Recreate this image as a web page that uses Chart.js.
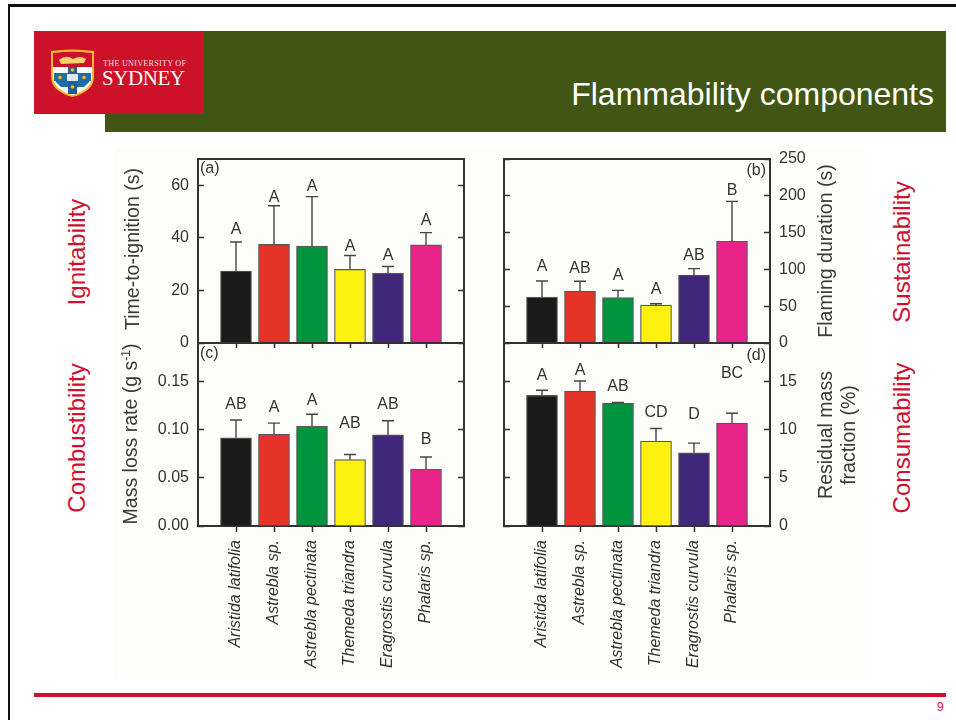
<!DOCTYPE html>
<html>
<head>
<meta charset="utf-8">
<title>Flammability components</title>
<script src="https://cdn.jsdelivr.net/npm/chart.js@4"></script>
<style>
  html, body { margin: 0; padding: 0; background: #fff; }
  body { position: relative; width: 956px; height: 720px; overflow: hidden; font-family: "Liberation Sans", Arial, sans-serif; }
  .box { position: absolute; }
  canvas { position: absolute; filter: blur(0.4px); }
  .rot { position: absolute; width: 300px; margin-left: -150px; height: 30px; margin-top: -15px; line-height: 30px;
         text-align: center; transform: rotate(-90deg); white-space: nowrap; }
  .side { color: #cf1030; font-size: 24px; }
  .ytitle { color: #3a3a3a; font-size: 19.5px; filter: blur(0.4px); }
  .ytitle sup { font-size: 12px; line-height: 0; }
</style>
</head>
<body>
<div class="box" style="left:8px;top:4px;width:948px;height:2.5px;background:#111"></div>
<div class="box" style="left:7.5px;top:4px;width:2.5px;height:716px;background:#111"></div>

<div class="box" style="left:105px;top:31px;width:841px;height:101px;background:#415615"></div>
<div class="box" style="left:34px;top:31px;width:170px;height:83px;background:#cd1129"></div>
<svg class="box" style="left:34px;top:31px" width="170" height="83" viewBox="0 0 170 83">
  <path d="M17 20 Q38 17 60 20 L60 46 Q60 60 38.500 66 Q17 60 17 46 Z" fill="#f6b92c"/>
  <path d="M19 22 Q38 19 58 22 L58 46 Q58 58 38.500 64 Q19 58 19 46 Z" fill="#fff"/>
  <path d="M19 22 Q38 19 58 22 L58 36 L19 36 Z" fill="#cd1129"/>
  <path d="M25 29 Q32 23 39 28 Q46 24 52 28 L50 32 L27 33 Z" fill="#f7d36a"/>
  <path d="M20 42 L57 42 L57 48 Q55 52 50 56 L27 56 Q22 52 20 48 Z" fill="#1e6fa8"/>
  <rect x="34" y="36" width="9" height="27" fill="#1e5f95"/>
  <rect x="20" y="43" width="37" height="7" fill="#1e6fa8"/>
  <rect x="33" y="43" width="11" height="7" fill="#dfe7ee"/>
  <circle cx="38.500" cy="39" r="1.800" fill="#f6b92c"/>
  <circle cx="38.500" cy="56" r="1.800" fill="#f6b92c"/>
  <circle cx="26" cy="46.500" r="1.800" fill="#f6b92c"/>
  <circle cx="50" cy="46.500" r="1.800" fill="#f6b92c"/>
  <text x="69" y="35" font-family="Liberation Serif" font-size="8.200" fill="#f6dfe0" textLength="83">THE UNIVERSITY OF</text>
  <text x="68" y="54" font-family="Liberation Serif" font-size="21" fill="#fff" textLength="83">SYDNEY</text>
</svg>
<div class="box" style="right:22px;top:75px;color:#fff;font-size:32px;line-height:38px;white-space:nowrap">Flammability components</div>

<div class="box" style="left:115px;top:148px;width:750px;height:532px;background:#fdfdfa"></div>

<div class="rot side" style="left:77px;top:252px">Ignitability</div>
<div class="rot side" style="left:902px;top:252px">Sustainability</div>
<div class="rot side" style="left:77px;top:438px">Combustibility</div>
<div class="rot side" style="left:902px;top:438px">Consumability</div>

<div class="rot ytitle" style="left:132px;top:249px">Time-to-ignition (s)</div>
<div class="rot ytitle" style="left:130px;top:434px">Mass loss rate (g s<sup>-1</sup>)</div>
<div class="rot ytitle" style="left:825px;top:251px">Flaming duration (s)</div>
<div class="rot ytitle" style="left:825px;top:435px">Residual mass</div>
<div class="rot ytitle" style="left:848px;top:435px">fraction (%)</div>

<canvas id="graficoA"></canvas>
<canvas id="graficoB"></canvas>
<canvas id="graficoC"></canvas>
<canvas id="graficoD"></canvas>

<div class="box" style="left:34px;top:693px;width:912px;height:4px;background:#cd1129"></div>
<div class="box" style="left:937px;top:701px;color:#cd1129;font-size:12px;line-height:13px">9</div>

<script>
const categories = ["Aristida latifolia", "Astrebla sp.", "Astrebla pectinata", "Themeda triandra", "Eragrostis curvula", "Phalaris sp."];
const barColors = ["#1a1a1a", "#e6332a", "#00943f", "#fff10f", "#40277a", "#e8248a"];

const timeToIgnition = [27.4, 37.5, 36.9, 28.0, 26.6, 37.3];
const timeToIgnitionUpper = [38.4, 52.2, 55.7, 33.3, 29.1, 42.0];
const timeToIgnitionLetters = ["A", "A", "A", "A", "A", "A"];
const timeToIgnitionLetterAt = [43.6, 55.8, 59.9, 37.0, 33.6, 46.9];

const flamingDuration = [62.4, 70.6, 61.6, 51.5, 92.4, 138.3];
const flamingDurationUpper = [84.2, 83.8, 71.5, 53.4, 101.0, 192.4];
const flamingDurationLetters = ["A", "AB", "A", "A", "AB", "B"];
const flamingDurationLetterAt = [104.9, 102.6, 92.6, 74.5, 119.9, 208.4];

const massLossRate = [0.0915, 0.0953, 0.1036, 0.0689, 0.0946, 0.0592];
const massLossRateUpper = [0.110, 0.1068, 0.1161, 0.0742, 0.1092, 0.0717];
const massLossRateLetters = ["AB", "A", "A", "AB", "AB", "B"];
const massLossRateLetterAt = [0.127, 0.124, 0.1316, 0.1072, 0.127, 0.0905];

const residualMass = [13.57, 14.0, 12.73, 8.8, 7.6, 10.68];
const residualMassUpper = [14.1, 15.05, 12.83, 10.13, 8.6, 11.7];
const residualMassLetters = ["A", "A", "AB", "CD", "D", "BC"];
const residualMassLetterAt = [15.7, 16.29, 14.58, 11.87, 11.7, 15.88];

const corEscura = "#333333";

// barras de erro, letras e (a), (b)... desenhados pelas escalas do grafico
const extras = {
  id: "extras",
  afterDatasetsDraw(chart, args, opts) {
    const { ctx, chartArea, scales } = chart;
    ctx.save();
    ctx.strokeStyle = "#454545";
    ctx.lineWidth = 1.4;
    opts.upper.forEach((valor, i) => {
      const x = scales.x.getPixelForValue(i + 1);
      const topo = scales.y.getPixelForValue(valor);
      const base = scales.y.getPixelForValue(opts.values[i]);
      ctx.beginPath();
      ctx.moveTo(x, base);
      ctx.lineTo(x, topo);
      ctx.moveTo(x - 6, topo);
      ctx.lineTo(x + 6, topo);
      ctx.stroke();
    });
    ctx.fillStyle = corEscura;
    ctx.font = "16px 'Liberation Sans'";
    ctx.textAlign = "center";
    ctx.textBaseline = "middle";
    opts.letters.forEach((letra, i) => {
      ctx.fillText(letra, scales.x.getPixelForValue(i + 1), scales.y.getPixelForValue(opts.letterAt[i]) + 1);
    });
    if (opts.tagRight) {
      ctx.textAlign = "right";
      ctx.fillText(opts.tag, chartArea.right - 4, chartArea.top + opts.tagY);
    } else {
      ctx.textAlign = "left";
      ctx.fillText(opts.tag, chartArea.left + 2, chartArea.top + opts.tagY);
    }
    ctx.restore();
  },
};

function eixo(position, min, max, extra) {
  return Object.assign({
    position,
    min,
    max,
    offset: false,
    border: { display: true, color: corEscura, width: 2 },
    grid: { display: true, offset: false, drawOnChartArea: false, drawTicks: true, tickLength: -6, tickColor: corEscura, tickWidth: 1.5 },
    ticks: { display: false },
  }, extra);
}

function gerarPainel(id, box, cfg) {
  const el = document.getElementById(id);
  el.style.left = box.left + "px";
  el.style.top = box.top + "px";
  el.style.width = box.width + "px";
  el.style.height = box.height + "px";

  // tamanho fixo dos eixos para a area do grafico cair no lugar certo
  const tamanho = (w, h) => (axis) => {
    if (w !== null) axis.width = w;
    if (h !== null) axis.height = h;
    axis.paddingTop = 0;
    axis.paddingBottom = 0;
    axis.paddingLeft = 0;
    axis.paddingRight = 0;
  };
  const limpar = (axis) => {
    axis.ticks = axis.ticks.filter((t) => t.value > 0 && t.value < 7);
  };
  const labelsY = {
    display: true,
    color: corEscura,
    font: { family: "Liberation Sans", size: 16 },
    padding: 15,
    stepSize: cfg.step,
    includeBounds: false,
    callback: (v) => v.toFixed(cfg.decimals),
  };
  const semLabelsY = { display: false, stepSize: cfg.step, includeBounds: false };

  new Chart(el, {
    type: "bar",
    data: {
      datasets: [{
        data: cfg.values.map((v, i) => ({ x: i + 1, y: v })),
        backgroundColor: barColors,
        borderColor: "rgba(60,60,60,0.85)",
        borderWidth: 1.2,
        barThickness: 31,
      }],
    },
    options: {
      responsive: false,
      animation: false,
      layout: { autoPadding: false, padding: cfg.padding },
      plugins: {
        legend: { display: false },
        tooltip: { enabled: false },
        extras: cfg,
      },
      scales: {
        x: eixo("bottom", 0, 7, {
          type: "linear",
          afterBuildTicks: limpar,
          afterFit: tamanho(null, cfg.labelsX ? 155 : 0),
          grid: { display: true, offset: false, drawOnChartArea: false, drawTicks: true, tickLength: cfg.labelsX ? 6 : 0, tickColor: corEscura, tickWidth: 1.5 },
          ticks: {
            display: !!cfg.labelsX,
            stepSize: 1,
            autoSkip: false,
            maxRotation: 90,
            minRotation: 90,
            padding: 8,
            color: corEscura,
            font: { family: "Liberation Sans", size: 16, style: "italic" },
            callback: (v) => categories[v - 1] || "",
          },
        }),
        xTop: eixo("top", 0, 7, {
          type: "linear",
          afterBuildTicks: limpar,
          afterFit: tamanho(null, 0),
          grid: { display: true, offset: false, drawOnChartArea: false, drawTicks: true, tickLength: cfg.labelsX ? -5 : 0, tickColor: corEscura, tickWidth: 1.5 },
          ticks: { display: false, stepSize: 1 },
        }),
        y: eixo("left", 0, cfg.max, {
          afterFit: tamanho(cfg.labelsLeft ? 48 : 0, null),
          ticks: cfg.labelsLeft ? labelsY : semLabelsY,
        }),
        yRight: eixo("right", 0, cfg.max, {
          afterFit: tamanho(cfg.labelsLeft ? 0 : 45, null),
          ticks: cfg.labelsLeft ? semLabelsY : labelsY,
        }),
      },
    },
    plugins: [extras],
  });
}

// canvas a/b vao ate y=350, a area do grafico termina em y=343
gerarPainel("graficoA", { left: 150, top: 150, width: 320, height: 200 }, {
  values: timeToIgnition, upper: timeToIgnitionUpper, letters: timeToIgnitionLetters, letterAt: timeToIgnitionLetterAt,
  max: 70, step: 20, decimals: 0, tag: "(a)", tagY: 10, labelsLeft: true, labelsX: false,
  padding: { left: 0, right: 6, top: 9, bottom: 7 },
});
gerarPainel("graficoB", { left: 498, top: 150, width: 317, height: 200 }, {
  values: flamingDuration, upper: flamingDurationUpper, letters: flamingDurationLetters, letterAt: flamingDurationLetterAt,
  max: 250, step: 50, decimals: 0, tag: "(b)", tagY: 12, tagRight: true, labelsLeft: false, labelsX: false,
  padding: { left: 6, right: 0, top: 9, bottom: 7 },
});
gerarPainel("graficoC", { left: 150, top: 335, width: 320, height: 346 }, {
  values: massLossRate, upper: massLossRateUpper, letters: massLossRateLetters, letterAt: massLossRateLetterAt,
  max: 0.19, step: 0.05, decimals: 2, tag: "(c)", tagY: 11, labelsLeft: true, labelsX: true,
  padding: { left: 0, right: 6, top: 8, bottom: 0 },
});
gerarPainel("graficoD", { left: 498, top: 335, width: 317, height: 346 }, {
  values: residualMass, upper: residualMassUpper, letters: residualMassLetters, letterAt: residualMassLetterAt,
  max: 19, step: 5, decimals: 0, tag: "(d)", tagY: 13, tagRight: true, labelsLeft: false, labelsX: true,
  padding: { left: 6, right: 0, top: 8, bottom: 0 },
});
</script>
</body>
</html>
